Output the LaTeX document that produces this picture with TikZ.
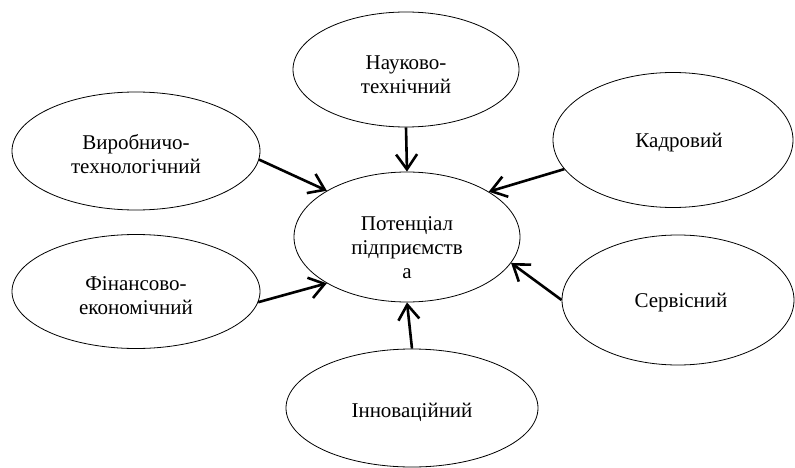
\documentclass[tikz,border=0pt]{standalone}
\usepackage{fontspec}
\setmainfont{Liberation Serif}
\newfontfamily\tnr{Liberation Serif}
\usetikzlibrary{shapes.geometric,arrows.meta}
\tikzset{
  oval/.style={ellipse, draw, line width=0.8pt, inner sep=0pt},
  txt/.style={inner sep=0pt, align=center, font=\tnr\fontsize{21}{24}\selectfont},
  link/.style={line width=2.6pt, -{Straight Barb[length=15pt,width=21pt,line width=2.6pt]}}
}
\begin{document}
\begin{tikzpicture}[x=1pt,y=-1pt]
\useasboundingbox (0,0) rectangle (795,468);
\node[oval, minimum width=226pt, minimum height=130pt] (pot) at (407,237) {};
\node[txt] (pottext) at ([yshift=-11pt]pot.center) {Потенціал\\підприємств\\а};
\node[oval, minimum width=226pt, minimum height=115pt] (nauk) at (406,69.5) {};
\node[txt] (nauktext) at ([yshift=-5pt]nauk.center) {Науково-\\технічний};
\node[oval, minimum width=248pt, minimum height=118pt] (vyr) at (136,151) {};
\node[txt] (vyrtext) at ([yshift=-3pt]vyr.center) {Виробничо-\\технологічний};
\node[oval, minimum width=248pt, minimum height=114pt] (fin) at (136,291.5) {};
\node[txt] (fintext) at ([yshift=-4pt]fin.center) {Фінансово-\\економічний};
\node[oval, minimum width=240pt, minimum height=135pt] (kad) at (673,140) {};
\node[txt] (kadtext) at ([xshift=6pt,yshift=-3pt]kad.center) {Кадровий};
\node[oval, minimum width=232pt, minimum height=130pt] (serv) at (678,300) {};
\node[txt] (servtext) at ([xshift=3pt,yshift=-3pt]serv.center) {Сервісний};
\node[oval, minimum width=252pt, minimum height=118pt] (inn) at (412,408) {};
\node[txt] (inntext) at ([yshift=-4pt]inn.center) {Інноваційний};
\draw[link] (nauk.south) -- (pot.north);
\draw[link] (inn.north) -- (pot.south);
\draw[link] (vyr.-4) -- (pot.150);
\draw[link] (fin.-5) -- (pot.210);
\draw[link] (kad.195) -- (pot.29);
\draw[link] (serv.180) -- (pot.-14);
\end{tikzpicture}
\end{document}
